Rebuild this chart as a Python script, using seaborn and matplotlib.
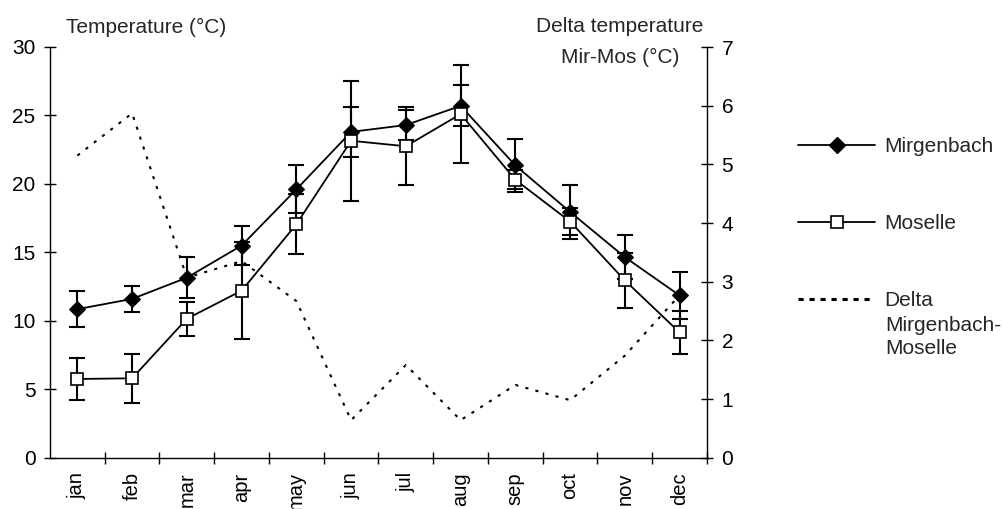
import matplotlib
matplotlib.use("Agg")
import matplotlib.pyplot as plt
import seaborn as sns
import numpy as np
from matplotlib.lines import Line2D

months = ['jan', 'feb', 'mar', 'apr', 'may', 'jun', 'jul', 'aug', 'sep', 'oct', 'nov', 'dec']
mirgenbach = [10.85, 11.6, 13.15, 15.5, 19.6, 23.8, 24.3, 25.7, 21.35, 17.95, 14.65, 11.85]
mirgenbach_err = [1.3, 0.95, 1.5, 1.45, 1.75, 1.85, 1.1, 1.5, 1.95, 2.0, 1.6, 1.75]
moselle = [5.75, 5.8, 10.15, 12.2, 17.05, 23.15, 22.75, 25.1, 20.3, 17.25, 12.95, 9.15]
moselle_err = [1.5, 1.8, 1.25, 3.55, 2.2, 4.4, 2.85, 3.55, 0.7, 1.0, 2.0, 1.6]
delta = [5.15, 5.87, 3.07, 3.35, 2.67, 0.64, 1.58, 0.64, 1.24, 0.98, 1.74, 2.77]

sns.set_theme(style="white")
plt.rcParams['font.family'] = ['Liberation Sans', 'DejaVu Sans']
FS = 15

fig = plt.figure(figsize=(10.04, 5.09), dpi=100)
ax1 = fig.add_axes([50/1004, 1-457.7/509, (707-50)/1004, (457.7-47)/509])
ax2 = ax1.twinx()
ax1.set_zorder(ax2.get_zorder() + 1)
ax1.patch.set_visible(False)

x = np.arange(len(months))

# delta on right axis
sns.lineplot(x=x, y=delta, ax=ax2, color='black', lw=1.5,
             linestyle=(0, (1.5, 3.5)), legend=False)

# error bars
ax1.errorbar(x, mirgenbach, yerr=mirgenbach_err, fmt='none', ecolor='black',
             elinewidth=1.5, capsize=6, capthick=1.5, zorder=2)
ax1.errorbar(x, moselle, yerr=moselle_err, fmt='none', ecolor='black',
             elinewidth=1.5, capsize=6, capthick=1.5, zorder=2)

sns.lineplot(x=x, y=mirgenbach, ax=ax1, color='black', lw=1.3, marker='D',
             markersize=8, markerfacecolor='black', markeredgecolor='black',
             legend=False, zorder=3)
sns.lineplot(x=x, y=moselle, ax=ax1, color='black', lw=1.3, marker='s',
             markersize=8, markerfacecolor='white', markeredgecolor='black',
             markeredgewidth=1.2, legend=False, zorder=4)

ax1.set_xlim(-0.5, len(months) - 0.5)
ax1.set_ylim(0, 30)
ax2.set_ylim(0, 7)
ax1.set_yticks(range(0, 31, 5))
ax2.set_yticks(range(0, 8))
ax1.set_xticks(x)
ax1.set_xticklabels(months, rotation=90, fontsize=14.5)
ax1.set_xticks(np.arange(-0.5, len(months), 1.0)[1:], minor=True)
ax1.tick_params(axis='x', which='major', length=0, pad=10.5, labelsize=14.5, colors='black')
ax1.tick_params(axis='x', which='minor', length=8.5, width=1, direction='inout', bottom=True, color='black')
ax1.tick_params(axis='y', which='major', length=9, width=1, direction='inout', pad=6,
                labelsize=FS, left=True, colors='black')
ax2.tick_params(axis='y', which='major', length=9, width=1, direction='inout', pad=6,
                labelsize=FS, right=True, colors='black')
for ax in (ax1, ax2):
    ax.set_xlabel('')
    ax.set_ylabel('')
    ax.grid(False)
    ax.spines['top'].set_visible(False)
    for s in ('left', 'right', 'bottom'):
        ax.spines[s].set_color('black')
        ax.spines[s].set_linewidth(1)
ax1.spines['right'].set_visible(False)
ax2.spines['left'].set_visible(False)
ax2.spines['bottom'].set_visible(False)

fig.text(66/1004, 1-27/509, 'Temperature (°C)', fontsize=FS, ha='left', va='center')
fig.text(620/1004, 1-26/509, 'Delta temperature', fontsize=FS, ha='center', va='center')
fig.text(620/1004, 1-57/509, 'Mir-Mos (°C)', fontsize=FS, ha='center', va='center')

handles = [
    Line2D([], [], color='black', lw=1.3, marker='D', markersize=8,
           markerfacecolor='black', markeredgecolor='black'),
    Line2D([], [], color='black', lw=1.3, marker='s', markersize=8,
           markerfacecolor='white', markeredgecolor='black', markeredgewidth=1.2),
    Line2D([], [], color='black', lw=2.2, linestyle=(0, (1.7, 1.9))),
]
labels = ['Mirgenbach', 'Moselle', 'Delta']
leg = fig.legend(handles, labels, loc='upper left', bbox_to_anchor=(798/1004, 1-137/509),
                 frameon=False, fontsize=FS, handlelength=3.7, handletextpad=0.45,
                 labelspacing=2.78, borderpad=0, borderaxespad=0)
fig.text(885/1004, 1-316/509, 'Mirgenbach-\nMoselle', fontsize=FS, ha='left', va='top',
         linespacing=1.3)

fig.savefig('out.png', dpi=100)
